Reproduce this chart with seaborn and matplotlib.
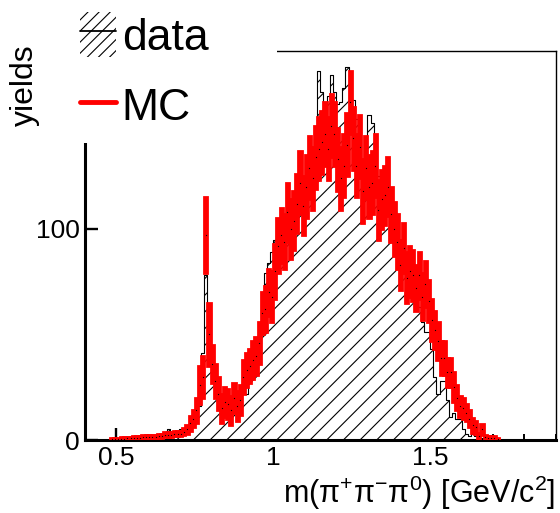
import numpy as np
import pandas as pd
import matplotlib
matplotlib.use("Agg")
import matplotlib.pyplot as plt
import seaborn as sns
from matplotlib.patches import Patch, Rectangle
from matplotlib.lines import Line2D
from matplotlib.ticker import MultipleLocator

# ---------------- data ----------------
bin_width = 0.01
bin_low = np.round(np.arange(0.45, 1.75, bin_width), 2)   # lower edges of the bins shown

data_counts = [
    0, 0, 0, 0, 0, 0, 1, 0, 0, 1,          # 0.45-0.54
    1, 0, 2, 1, 1, 2, 1, 2, 3, 2,          # 0.55-0.64
    4, 5, 3, 2, 3, 5, 4, 5, 6, 6,          # 0.65-0.74
    10, 16, 41, 78, 60, 40, 30, 21, 16, 15,  # 0.75-0.84
    13, 17, 14, 16, 20, 28, 22, 30, 38, 46,  # 0.85-0.94
    46, 57, 79, 84, 89, 95, 100, 103, 104, 106,  # 0.95-1.04
    105, 108, 118, 117, 119, 118, 143, 135, 135, 175,  # 1.05-1.14
    165, 156, 163, 173, 165, 159, 160, 167, 177, 162,  # 1.15-1.24
    161, 152, 133, 133, 136, 154, 150, 125, 125, 118,  # 1.25-1.34
    118, 118, 112, 100, 95, 88, 80, 76, 72, 68,  # 1.35-1.44
    63, 63, 56, 51, 51, 43, 30, 22, 28, 28,  # 1.45-1.54
    19, 11, 13, 10, 10, 5, 3, 2, 3, 2,      # 1.55-1.64
    2, 1, 0, 0, 2, 0, 0, 0, 0, 0,          # 1.65-1.74
]

mc_values = [
    0, 0, 0, 0.5, 0.5, 0.5, 0.7, 0.7, 0.8, 0.8,      # 0.45-0.54
    1.0, 1.0, 1.0, 1.5, 1.5, 1.5, 1.5, 1.5, 2.0, 2.0,  # 0.55-0.64
    2.5, 2.5, 2.5, 3.0, 3.0, 3.0, 4.0, 5.0, 8.0, 10,  # 0.65-0.74
    14, 26, 30, 97, 50, 36, 28, 22, 15, 18,          # 0.75-0.84
    17, 14, 20, 16, 19, 30, 33, 35, 38, 40,          # 0.85-0.94
    46, 60, 62, 70, 68, 80, 92, 97, 94, 108,         # 0.95-1.04
    100, 104, 112, 122, 111, 120, 129, 124, 134, 138,  # 1.05-1.14
    141, 145, 138, 149, 145, 133, 124, 130, 140, 160,  # 1.15-1.24
    143, 130, 139, 118, 129, 120, 122, 130, 109, 114,  # 1.25-1.34
    116, 120, 107, 100, 94, 83, 91, 77, 80, 78,      # 1.35-1.44
    72, 78, 68, 74, 66, 57, 52, 47, 39, 39,          # 1.45-1.54
    32, 32, 25, 20, 16, 15, 13, 10, 7, 6,            # 1.55-1.64
    2, 5, 1.5, 1, 1, 1, 0.5, 0, 0, 0,                # 1.65-1.74
]

mc_errors = [
    0, 0, 0, 0.6, 0.6, 0.6, 0.7, 0.7, 0.7, 0.7,
    0.8, 0.8, 0.8, 0.9, 0.9, 0.9, 0.9, 0.9, 1.0, 1.0,
    1.1, 1.1, 1.1, 1.2, 1.2, 1.3, 1.6, 2.2, 3.5, 4,
    6, 9, 10, 18, 15, 9, 8, 8, 7, 7,
    7, 7, 7, 7, 7, 8, 8, 8, 9, 9,
    10, 10, 11, 11, 12, 13, 13, 13, 13, 14,
    14, 14, 14, 15, 14, 15, 15, 15, 15, 15,
    15, 15, 15, 15, 15, 15, 15, 15, 15, 15,
    15, 15, 15, 15, 15, 15, 15, 15, 14, 14,
    14, 14, 13, 13, 13, 12, 12, 12, 12, 12,
    11, 11, 11, 11, 10, 10, 9, 9, 8, 8,
    7, 7, 7, 6, 5, 5, 4, 4, 3.5, 3,
    1.5, 2.5, 1, 1, 1, 0.8, 0.6, 0, 0, 0,
]

x_ticks = [0.5, 1.0, 1.5]
x_tick_labels = ["0.5", "1", "1.5"]
y_ticks = [0, 100]
y_tick_labels = ["0", "100"]

# ---------------- style ----------------
sns.set_theme(style="ticks")
plt.rcParams["font.family"] = ["Liberation Sans", "DejaVu Sans"]
plt.rcParams.update({
    "axes.edgecolor": "black", "text.color": "black", "axes.labelcolor": "black",
    "xtick.color": "black", "ytick.color": "black",
    "hatch.linewidth": 0.8,
    "mathtext.fontset": "custom", "mathtext.rm": "Liberation Sans",
    "mathtext.it": "Liberation Sans", "mathtext.default": "regular",
})

centers = np.round(bin_low + bin_width / 2, 3)
edges = [float(e) for e in np.round(np.append(bin_low, bin_low[-1] + bin_width), 3)]
df = pd.DataFrame({"m": centers, "data": data_counts, "mc": mc_values, "err": mc_errors})

fig = plt.figure(figsize=(5.6, 5.13), dpi=100)
ax = fig.add_axes([0.1518, 0.1423, 0.8405, 0.7589])

# data: hatched histogram
sns.histplot(data=df, x="m", weights="data", bins=edges, element="step", fill=True,
             facecolor="white", edgecolor="black", hatch="//", linewidth=0.8,
             alpha=1, ax=ax, zorder=1)

# MC: red error boxes + small markers
mc_df = df[df["mc"] > 0]
ax.bar(mc_df["m"], 2 * mc_df["err"], bottom=mc_df["mc"] - mc_df["err"], width=bin_width,
       color="#ff0000", edgecolor="#ff0000", linewidth=2.0, zorder=3)
ax.scatter(mc_df["m"], mc_df["mc"], s=0.8, color="black", linewidths=0, zorder=4)

ax.set_xlim(0.4, 1.9)
ax.set_ylim(0, 184.5)

ax.set_xticks(x_ticks)
ax.set_xticklabels(x_tick_labels)
ax.set_yticks(y_ticks)
ax.set_yticklabels(y_tick_labels)
ax.xaxis.set_minor_locator(MultipleLocator(0.1))

ax.tick_params(axis="both", which="major", direction="in", length=9, width=1.7,
               labelsize=19, pad=4)
ax.tick_params(axis="x", which="minor", direction="in", length=4, width=1.4)
ax.tick_params(axis="y", which="minor", left=False)

for side in ["left", "bottom"]:
    ax.spines[side].set_linewidth(2.2)
for side in ["top", "right"]:
    ax.spines[side].set_linewidth(1.0)
    ax.spines[side].set_visible(True)

ax.set_ylabel("")
ax.set_xlabel("m(π$^{+}$π$^{-}$π$^{0}$) [GeV/c$^{2}$]", fontsize=22, loc="right", labelpad=3)

# white legend box covering the upper-left corner
fig.add_artist(Rectangle((0, 1 - 143 / 513), 277 / 560, 143 / 513, transform=fig.transFigure,
                         facecolor="white", edgecolor="none", zorder=4))

fig.text(25 / 560, 1 - 85 / 513, "yields", rotation=90, ha="center", va="center",
         fontsize=23, zorder=6)

h_data = (Patch(facecolor="white", edgecolor="black", hatch="///", linewidth=0),
          Line2D([], [], color="black", linewidth=1.3))
h_mc = Line2D([], [], color="#ff0000", linewidth=3.5)
leg = fig.legend(handles=[h_data, h_mc], labels=["data", "MC"], loc="upper left",
                 bbox_to_anchor=(80 / 560, 1 - 12 / 513), frameon=False, fontsize=32,
                 handlelength=0.82, handleheight=1.18, labelspacing=0.55,
                 handletextpad=0.12, borderpad=0, borderaxespad=0)
leg.set_zorder(7)

fig.savefig("out.png", dpi=100)
